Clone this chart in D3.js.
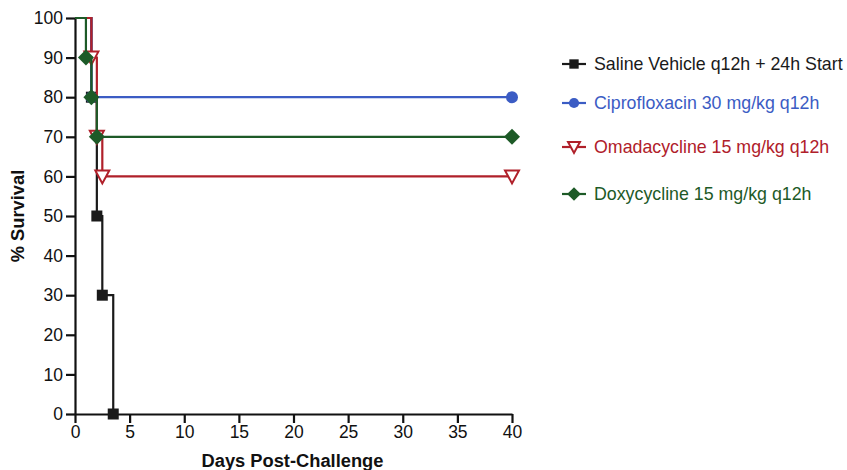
<!DOCTYPE html>
<html>
<head>
<meta charset="utf-8">
<script src="https://cdn.jsdelivr.net/npm/d3@7"></script>
<style>
  body { margin: 0; background: #fff; }
  text { font-family: "Liberation Sans", Arial, sans-serif; }
</style>
</head>
<body>
<script>
// data: Kaplan-Meier steps (day of drop, survival after drop)
let seriesNames = ["Saline Vehicle q12h + 24h Start", "Ciprofloxacin 30 mg/kg q12h",
  "Omadacycline 15 mg/kg q12h", "Doxycycline 15 mg/kg q12h"];
let salineDays = [0, 1.5, 2, 2.5, 3.5];
let salineSurv = [100, 80, 50, 30, 0];
let ciproDays = [0, 1.5, 40];
let ciproSurv = [100, 80, 80];
let omadaDays = [0, 1.5, 2, 2.5, 40];
let omadaSurv = [100, 90, 70, 60, 60];
let doxyDays = [0, 1, 1.5, 2, 40];
let doxySurv = [100, 90, 80, 70, 70];
let xTicks = [0, 5, 10, 15, 20, 25, 30, 35, 40];
let yTicks = [0, 10, 20, 30, 40, 50, 60, 70, 80, 90, 100];

let colors = ["#1a1a1a", "#3b5cc4", "#b0202a", "#1d5a27"];
let symbols = ["square", "circle", "triangle", "diamond"];

let svgWidth = 847, svgHeight = 470;
let margins = { left: 75, top: 18 };
let width = 437, height = 396;

let svg = d3.select("body").append("svg")
  .attr("width", svgWidth)
  .attr("height", svgHeight);

let xScale = d3.scaleLinear().domain([0, 40]).range([0, width]);
let yScale = d3.scaleLinear().domain([0, 100]).range([height, 0]);

let container = svg.append("g")
  .attr("transform", `translate(${margins.left}, ${margins.top})`);

// axes
let xAxisG = container.append("g")
  .attr("transform", `translate(0, ${height})`)
  .call(d3.axisBottom(xScale).tickValues(xTicks).tickSize(9).tickPadding(3).tickSizeOuter(0));
let yAxisG = container.append("g")
  .call(d3.axisLeft(yScale).tickValues(yTicks).tickSize(9).tickPadding(3).tickSizeOuter(0));
[xAxisG, yAxisG].forEach(g => {
  g.selectAll("path, line").attr("stroke", "#111").attr("stroke-width", 2.2);
  g.selectAll("text").attr("font-size", 17.5).attr("fill", "#111")
    .attr("font-family", "'Liberation Sans', Arial, sans-serif");
});

// axis labels
svg.append("text").text("Days Post-Challenge")
  .attr("x", margins.left + width / 2 - 1).attr("y", 467)
  .attr("text-anchor", "middle")
  .attr("font-size", 18.3).attr("font-weight", "bold").attr("fill", "#111");
svg.append("g")
  .attr("transform", `translate(24, ${margins.top + height / 2}) rotate(-90)`)
  .append("text").text("% Survival")
  .attr("text-anchor", "middle")
  .attr("font-size", 18.3).attr("font-weight", "bold").attr("fill", "#111");

// marker drawer (k scales the size)
function drawMarker(g, sym, color, x, y, k = 1) {
  if (sym === "square") {
    g.append("rect").attr("x", x - 5.5 * k).attr("y", y - 5.5 * k)
      .attr("width", 11 * k).attr("height", 11 * k)
      .attr("fill", color);
  } else if (sym === "circle") {
    g.append("circle").attr("cx", x).attr("cy", y).attr("r", 6 * k).attr("fill", color);
  } else if (sym === "triangle") {
    g.append("path").attr("d", `M${x - 7 * k},${y - 6 * k} L${x + 7 * k},${y - 6 * k} L${x},${y + 7 * k} Z`)
      .attr("fill", "#fff").attr("stroke", color).attr("stroke-width", 2);
  } else {
    g.append("path").attr("d", `M${x},${y - 8 * k} L${x + 8 * k},${y} L${x},${y + 8 * k} L${x - 8 * k},${y} Z`)
      .attr("fill", color);
  }
}

let allDays = [salineDays, ciproDays, omadaDays, doxyDays];
let allSurv = [salineSurv, ciproSurv, omadaSurv, doxySurv];

let line = d3.line()
  .x(d => xScale(d[0]))
  .y(d => yScale(d[1]))
  .curve(d3.curveStepAfter);

allDays.forEach((days, i) => {
  let pts = days.map((d, j) => [d, allSurv[i][j]]);
  let g = container.append("g");
  g.append("path").datum(pts)
    .attr("d", line)
    .attr("fill", "none")
    .attr("stroke", colors[i])
    .attr("stroke-width", 2.2);
  pts.slice(1).forEach(p => drawMarker(g, symbols[i], colors[i], xScale(p[0]), yScale(p[1])));
});

// legend
let legendRows = [64, 103, 147, 194];
let legend = svg.append("g");
seriesNames.forEach((name, i) => {
  let y = legendRows[i];
  legend.append("line")
    .attr("x1", 562).attr("x2", 586).attr("y1", y).attr("y2", y)
    .attr("stroke", colors[i]).attr("stroke-width", 2.2);
  drawMarker(legend, symbols[i], colors[i], 574, y, 0.85);
  legend.append("text").text(name)
    .attr("x", 594).attr("y", y)
    .attr("dy", "0.35em")
    .attr("font-size", 17.8)
    .attr("fill", colors[i]);
});
</script>
</body>
</html>
